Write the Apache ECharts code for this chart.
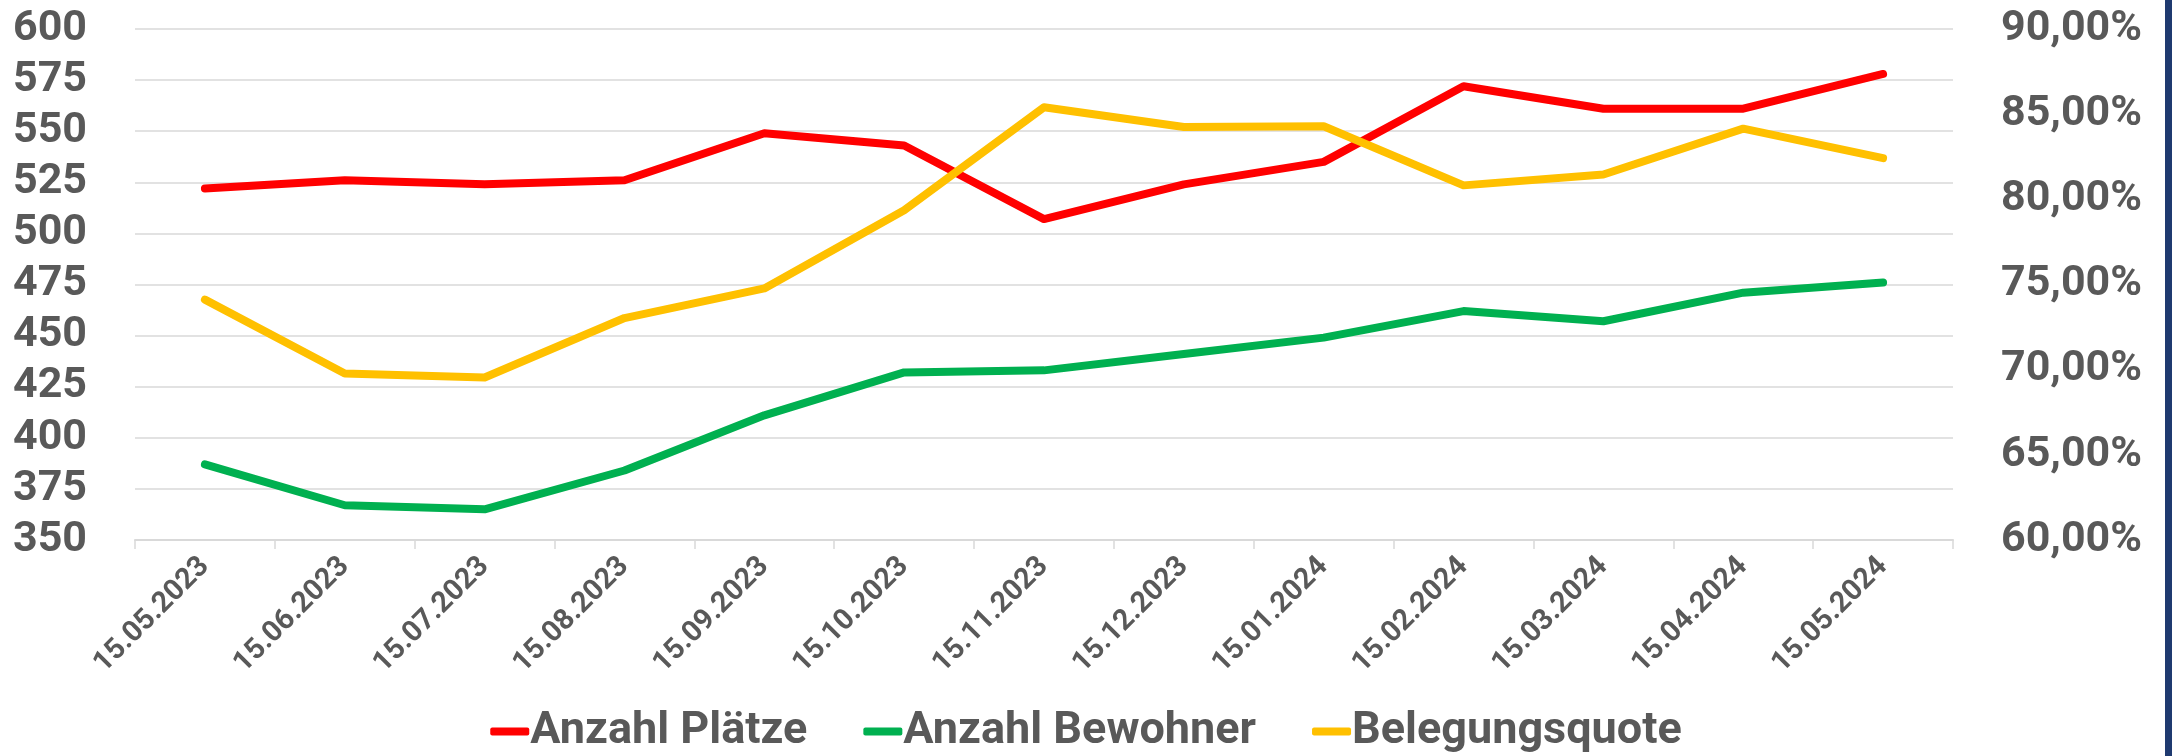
<!DOCTYPE html>
<html lang="de">
<head>
  <meta charset="UTF-8">
  <title>Belegung</title>
  <script src="https://cdn.jsdelivr.net/npm/echarts@6/dist/echarts.min.js"></script>
  <style>
    html, body { margin: 0; padding: 0; background: #fff; }
    #chart { width: 2172px; height: 756px; }
  </style>
</head>
<body>
  <div id="chart"></div>
  <script>
    var dates = ['15.05.2023', '15.06.2023', '15.07.2023', '15.08.2023', '15.09.2023', '15.10.2023',
      '15.11.2023', '15.12.2023', '15.01.2024', '15.02.2024', '15.03.2024', '15.04.2024', '15.05.2024'];
    var plaetze = [522, 526, 524, 526, 549, 543, 507, 524, 535, 572, 561, 561, 578];
    var bewohner = [387, 367, 365, 384, 411, 432, 433, 441, 449, 462, 457, 471, 476];
    var quote = [74.11, 69.78, 69.54, 73.03, 74.77, 79.36, 85.41, 84.25, 84.29, 80.82, 81.46, 84.15, 82.42];

    var grey = '#595959';
    var font = 'Roboto, "Liberation Sans", sans-serif';
    var chart = echarts.init(document.getElementById('chart'));

    function line(name, data, color, axis) {
      return {
        name: name,
        type: 'line',
        yAxisIndex: axis,
        data: data,
        showSymbol: false,
        symbol: 'none',
        color: color,
        lineStyle: { color: color, width: 8, cap: 'round', join: 'round' },
        emphasis: { disabled: true }
      };
    }

    chart.setOption({
      animation: false,
      backgroundColor: '#fff',
      textStyle: { fontFamily: font },
      grid: { left: 135, right: 219, top: 29, bottom: 216, containLabel: false, outerBoundsMode: 'none' },
      legend: {
        top: 709,
        left: 'center',
        padding: 0,
        icon: 'roundRect',
        itemWidth: 39,
        itemHeight: 8,
        itemGap: 56,
        textStyle: { color: grey, fontSize: 45, fontWeight: 'bold', fontFamily: font, padding: [0, 0, 0, -4] },
        data: ['Anzahl Plätze', 'Anzahl Bewohner', 'Belegungsquote']
      },
      xAxis: {
        type: 'category',
        data: dates,
        boundaryGap: true,
        axisLine: { lineStyle: { color: '#D9D9D9', width: 2 } },
        axisTick: { show: true, length: 9, lineStyle: { color: '#D9D9D9', width: 1.5 } },
        axisLabel: { rotate: 45, margin: 22, color: grey, fontSize: 29, fontWeight: 'bold', fontFamily: font }
      },
      yAxis: [{
        type: 'value',
        min: 350,
        max: 600,
        interval: 25,
        axisLine: { show: false },
        axisTick: { show: false },
        splitLine: { lineStyle: { color: '#D9D9D9', width: 1.5 } },
        axisLabel: { margin: 48, color: grey, fontSize: 43, fontWeight: 'bold', fontFamily: font }
      }, {
        type: 'value',
        min: 60,
        max: 90,
        interval: 5,
        position: 'right',
        axisLine: { show: false },
        axisTick: { show: false },
        splitLine: { show: false },
        axisLabel: {
          margin: 48, color: grey, fontSize: 43, fontWeight: 'bold', fontFamily: font,
          formatter: function (v) { return v.toFixed(2).replace('.', ',') + '%'; }
        }
      }],
      graphic: [{
        type: 'rect',
        right: 0,
        top: 0,
        shape: { width: 7, height: 756 },
        style: { fill: '#1F3A70' }
      }],
      series: [
        line('Anzahl Plätze', plaetze, '#FF0000', 0),
        line('Anzahl Bewohner', bewohner, '#00B050', 0),
        line('Belegungsquote', quote, '#FFC000', 1)
      ]
    });
  </script>
</body>
</html>
